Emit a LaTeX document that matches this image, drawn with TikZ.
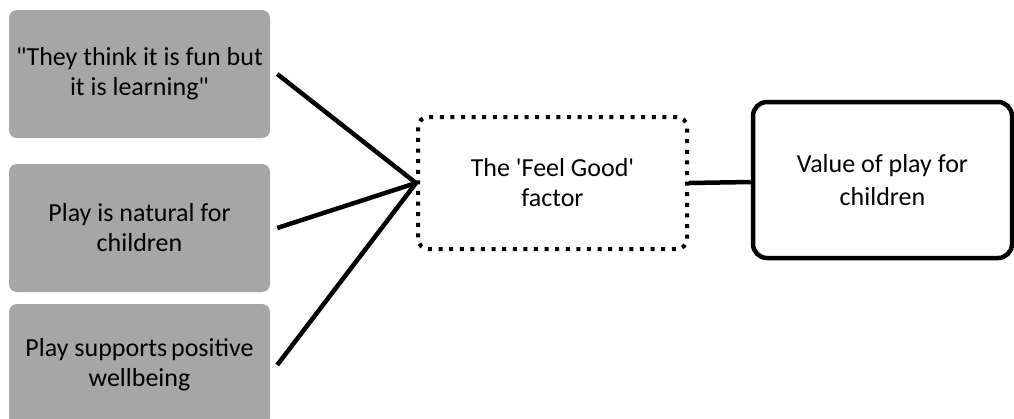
\documentclass[tikz,border=0pt]{standalone}
\usepackage{fontspec}
\setmainfont{Carlito}[Ligatures=TeXOff]
\usetikzlibrary{positioning}
\definecolor{boxgray}{HTML}{A6A6A6}

\begin{document}
\begin{tikzpicture}[x=1pt,y=-1pt,
    greybox/.style={fill=boxgray,rounded corners=8pt,minimum width=261pt,
      minimum height=128pt,align=center,inner sep=0pt,
      font=\fontsize{26}{30}\selectfont},
    dotbox/.style={draw,line width=4pt,dash pattern=on 4pt off 6.6pt,
      rounded corners=10pt,minimum width=269pt,minimum height=132pt,
      align=center,inner sep=0pt,font=\fontsize{26}{30}\selectfont},
    valuebox/.style={draw,line width=4.5pt,rounded corners=14pt,minimum width=259pt,
      minimum height=156pt,align=center,inner sep=0pt,
      font=\fontsize{26}{33}\selectfont},
    link/.style={line width=4.5pt}]
      \useasboundingbox[fill=white] (0,0) rectangle (1014,418);
      \node [greybox] (fun) at (139.5,74) {"They think it is fun but\\it is learning"};
      \node [greybox] (natural) at (139.5,228) {Play is natural for\\children};
      \node [greybox,minimum height=122pt] (wellbeing) at (139.5,365) {Play supports\hspace{0.15em}positive\\wellbeing};
      \node [dotbox] (feel) at (552.5,183) {The 'Feel Good'\\factor};
      \node [valuebox] (value) at (882.5,180) {Value of play for\\children};
      \draw [link] ([xshift=7pt]fun.east) -- (feel.west);
      \draw [link] ([xshift=7pt]natural.east) -- (feel.west);
      \draw [link] ([xshift=7pt]wellbeing.east) -- (feel.west);
      \draw [link] (feel.east) -- ([yshift=-2pt]value.west);
      \end{tikzpicture}
\end{document}
